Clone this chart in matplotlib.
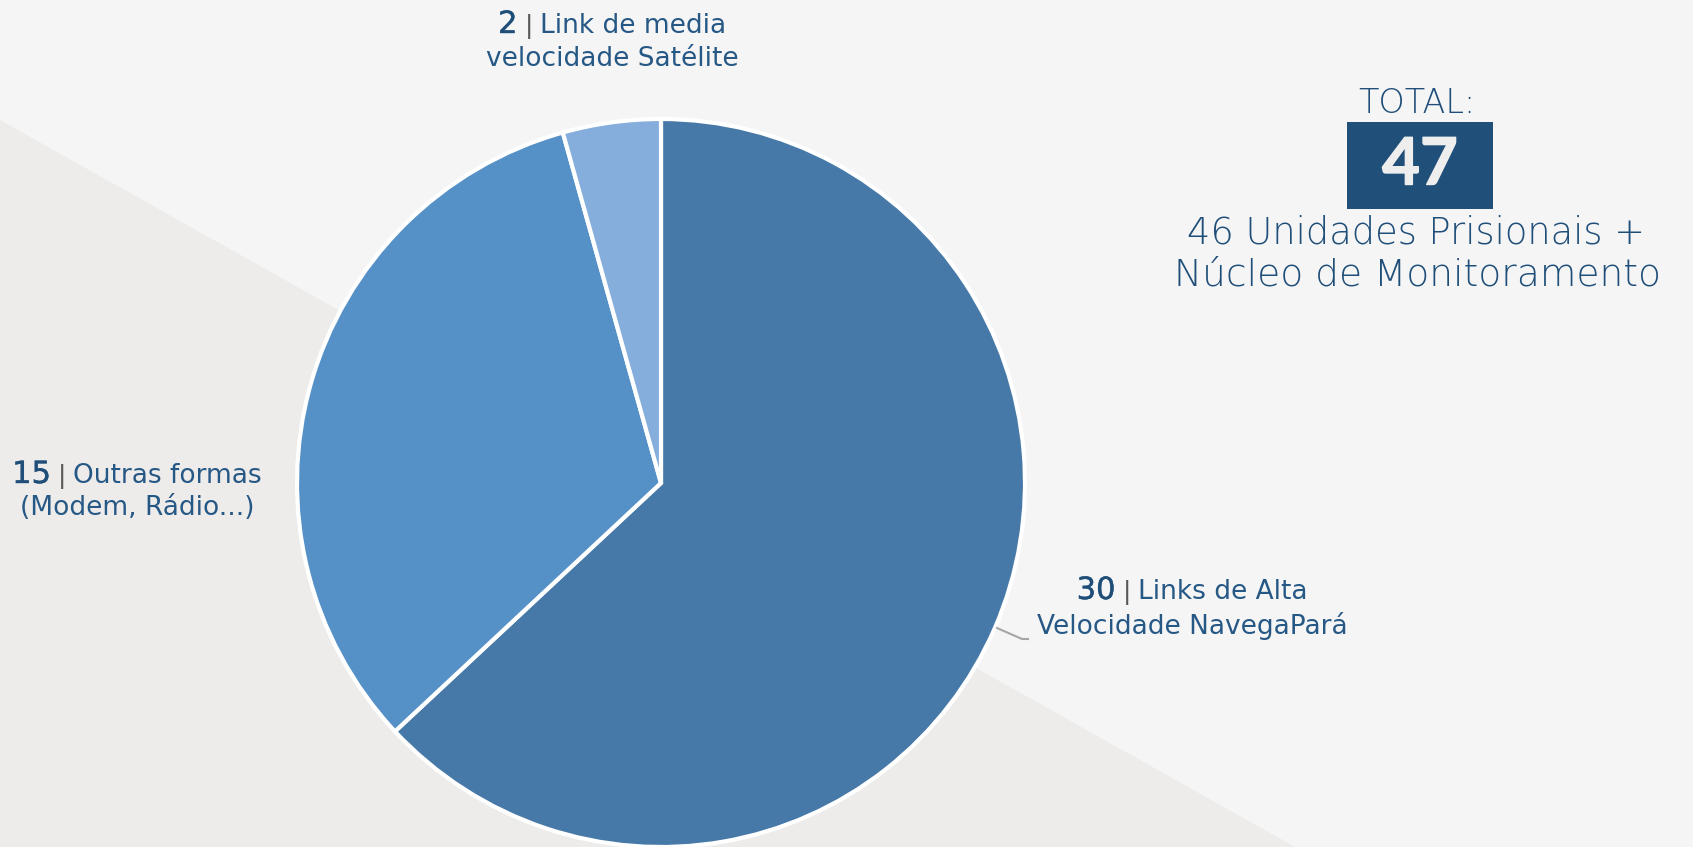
import matplotlib
matplotlib.use('Agg')
import matplotlib.pyplot as plt
import matplotlib.patheffects as pe
from matplotlib.patches import Polygon, Rectangle

W, H = 1693, 847

# data (wedge sizes as drawn in the picture; the label numbers are text)
values = [29, 15, 2]
numbers = ['30', '15', '2']
line1 = ['Links de Alta', 'Outras formas', 'Link de media']
line2 = ['Velocidade NavegaPará', '(Modem, Rádio...)', 'velocidade Satélite']
colors = ['#4779a8', '#5591c7', '#85aedc']
total_value = '47'
total_lines = ['46 Unidades Prisionais +', 'Núcleo de Monitoramento']

plt.rcParams['font.family'] = ['Lato', 'DejaVu Sans']
DV = 'DejaVu Sans'

fig = plt.figure(figsize=(W / 100, H / 100), dpi=100)
fig.patch.set_facecolor('#f5f5f5')
ax = fig.add_axes([0, 0, 1, 1])
ax.set_facecolor('#f5f5f5')

# darker diagonal area in the lower left
ax.add_patch(Polygon([(0, H - 120), (1295, 0), (0, 0)], closed=True,
                     facecolor='#edecea', edgecolor='none', zorder=0))

ax.pie(values, colors=colors, startangle=90, counterclock=False,
       center=(661, H - 483), radius=364,
       wedgeprops=dict(edgecolor='white', linewidth=3))
ax.set_xlim(0, W)
ax.set_ylim(0, H)
ax.set_aspect('auto')
ax.axis('off')

# leader line for the big slice
ax.plot([997, 1022, 1028], [H - 628, H - 639, H - 639], color='#a6a6a6', lw=1.5)

fig.canvas.draw()
r = fig.canvas.get_renderer()

NUM = '#1f4e79'
TXT = '#265886'


def rich_line(xc, y, parts, gap=7):
    objs = [ax.text(0, y, s, va='baseline', ha='left', **kw) for s, kw in parts]
    widths = [o.get_window_extent(r).width for o in objs]
    x = xc - (sum(widths) + gap * (len(objs) - 1)) / 2
    for o, w in zip(objs, widths):
        o.set_x(x)
        x += w + gap


label_pos = [(1192, 599, 634), (137, 483, 515), (612, 33, 66)]
for num, t1, t2, (xc, y1, y2) in zip(numbers, line1, line2, label_pos):
    rich_line(xc, H - y1, [
        (num, dict(fontsize=22, color=NUM, family=DV,
                   path_effects=[pe.withStroke(linewidth=0.3, foreground=NUM)])),
        ('|', dict(fontsize=18, color='#595959', family=DV)),
        (t1, dict(fontsize=19, color=TXT, family=DV)),
    ])
    ax.text(xc, H - y2, t2, ha='center', va='baseline', fontsize=19,
            color=TXT, family=DV)

# total box
ax.text(1417, H - 113, 'TOTAL:', ha='center', va='baseline', fontsize=24,
        fontweight='light', color=NUM, family=DV)
ax.add_patch(Rectangle((1347, H - 209), 146, 87, facecolor='#20507a', edgecolor='none'))
ax.text(1420, H - 166, total_value, ha='center', va='center', fontsize=47,
        fontweight='bold', color='#eeeeee',
        path_effects=[pe.withStroke(linewidth=1, foreground='#eeeeee')])
ax.text(1416, H - 243, total_lines[0], ha='center', va='baseline', fontsize=26.5,
        fontweight='light', color=NUM, family=DV)
ax.text(1418, H - 285, total_lines[1], ha='center', va='baseline', fontsize=27,
        fontweight='light', color=NUM, family=DV)

fig.savefig('out.png', dpi=100, facecolor=fig.get_facecolor())
